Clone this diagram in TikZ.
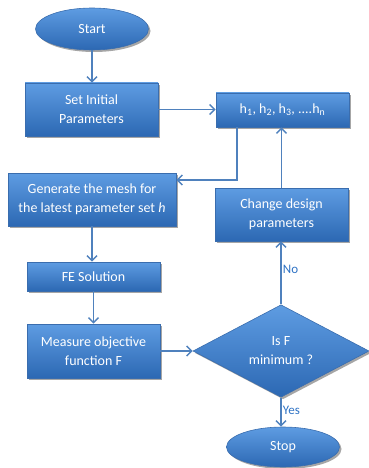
\documentclass[tikz,border=0pt]{standalone}
\usepackage{fontspec}
\setmainfont{Carlito}
\usetikzlibrary{shapes.geometric,arrows.meta,shadows}
\definecolor{topblue}{HTML}{5E9CE2}
\definecolor{botblue}{HTML}{2C68B3}
\definecolor{edgeblue}{HTML}{3A6DAE}
\definecolor{arrowblue}{HTML}{4F81BD}
\definecolor{labelblue}{HTML}{2E72C4}
\tikzset{
  block/.style={draw=edgeblue, line width=0.6pt, top color=topblue, bottom color=botblue,
    text=white, align=center, inner sep=0pt,
    font=\fontsize{14}{19}\selectfont,
    drop shadow={shadow xshift=2pt, shadow yshift=-2pt, fill=black, opacity=0.35}},
  box/.style={block, rectangle},
  term/.style={block, ellipse, minimum width=113pt, minimum height=42pt},
  decide/.style={block, diamond, minimum width=176pt, minimum height=81pt},
  arr/.style={draw=arrowblue, line width=1.8pt, -{Straight Barb[length=5pt,width=10pt,line width=1.5pt]}},
  lab/.style={text=labelblue, font=\fontsize{13}{15}\selectfont, inner sep=1pt}
}
\begin{document}
\begin{tikzpicture}[x=1pt,y=-1pt]
\useasboundingbox (0,0) rectangle (368,468);
\node[term] (start) at (92,29) {Start};
\node[box, minimum width=133pt, minimum height=53pt] (set) at (91.5,109.5) {Set Initial\\Parameters};
\node[box, minimum width=133pt, minimum height=34pt] (h) at (282.5,110) {h\textsubscript{1}, h\textsubscript{2}, h\textsubscript{3}, ....h\textsubscript{n}};
\node[box, minimum width=168pt, minimum height=53pt] (gen) at (92,199.5) {Generate the mesh for\\the latest parameter set \textit{h}};
\node[box, minimum width=133pt, minimum height=53pt] (change) at (281.5,214.5) {Change design\\parameters};
\node[box, minimum width=133pt, minimum height=29pt] (fe) at (93.5,276.5) {FE Solution};
\node[box, minimum width=133pt, minimum height=54pt] (meas) at (93.5,351) {Measure objective\\function F};
\node[decide] (dia) at (281,351) {Is F\\minimum ?};
\node[term, minimum height=40pt] (stop) at (283,447) {Stop};

\draw[arr] (start.south) -- (start.south |- set.north);
\draw[arr] (set.east) -- (set.east -| h.west);
\draw[arr] ([xshift=-45.5pt]h.south) |- ([yshift=19.5pt]gen.east);
\draw[arr] (change.north) -- (change.north |- h.south);
\draw[arr] (gen.south) -- (gen.south |- fe.north);
\draw[arr] (fe.south) -- (fe.south |- meas.north);
\draw[arr] (meas.east) -- (dia.west);
\draw[arr] (dia.north) -- node[lab, right, pos=0.55] {No} (dia.north |- change.south);
\draw[arr] (dia.south) -- node[lab, right, pos=0.45] {Yes} (dia.south |- stop.north);
\end{tikzpicture}
\end{document}
